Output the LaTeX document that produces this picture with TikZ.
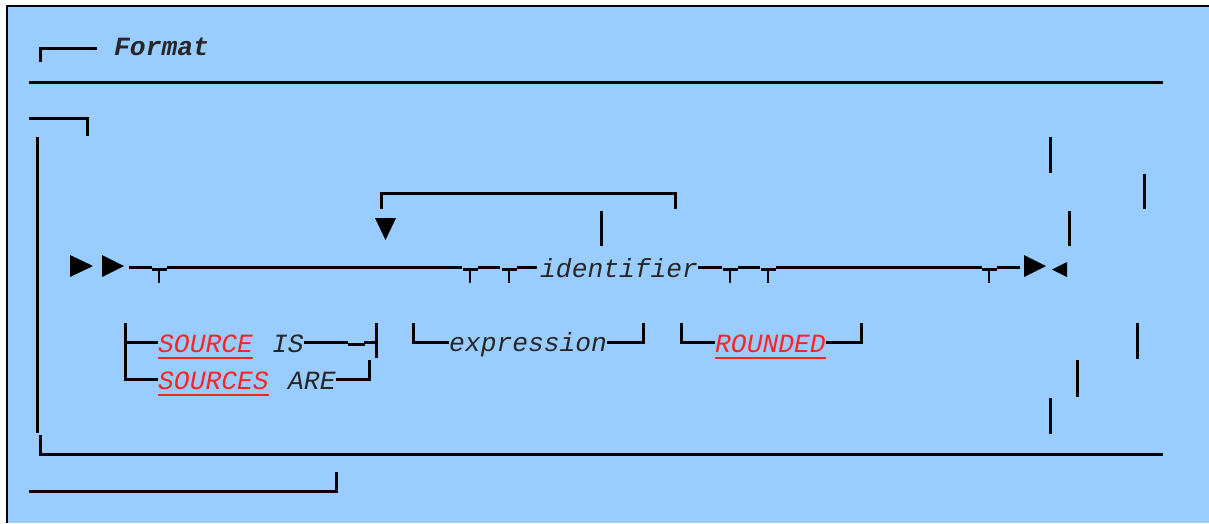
\documentclass[tikz,border=0pt]{standalone}
\usepackage{fontspec}
\newfontfamily\railfont{Liberation Mono}
\definecolor{panelblue}{HTML}{99CCFF}
\definecolor{kwred}{HTML}{FF2424}

\tikzset{
  rail/.style={line width=3pt},
  teeline/.style={line width=2.6pt},
  railtext/.style={font=\railfont\fontsize{26.3}{30}\selectfont\itshape,
    inner sep=0pt, anchor=base west, text=black!85},
  kwtext/.style={railtext, text=kwred},
  kwline/.style={draw=kwred, line width=1.3pt},
  tip/.style={fill=black},
}
% red underline below a keyword node
\newcommand{\kwunder}[1]{%
  \draw[kwline] ([yshift=-6pt]#1.base west) -- ([yshift=-6pt]#1.base east);}

\begin{document}
\begin{tikzpicture}[x=1pt,y=-1pt]
\useasboundingbox (0,0) rectangle (1209,523);

% Panel
\fill[white] (0,0) rectangle (1209,523);
\fill[panelblue] (7,6) rectangle (1209,523);
\draw[line width=1.3pt] (7,523) -- (7,6) -- (1209,6);

% Heading
\draw[rail] (40,62) -- (40,48) -- (97,48);
\node[railtext, font=\railfont\fontsize{26.3}{30}\selectfont\bfseries\itshape]
    (fmt) at (114,55) {Format};
\draw[rail] (29,82) -- (1163,82);

% Outer frame
\draw[rail] (29,118) -- (87,118) -- (87,136);
\draw[rail] (37.7,137) -- (37.7,433);
\draw[rail] (40.7,435) -- (40.7,454) -- (1163,454);
\draw[rail] (29,491) -- (336,491) -- (336,472);

% Main line
\fill[tip] (70,255) -- (93,266) -- (70,277) -- cycle;
\fill[tip] (102,255) -- (124,266) -- (102,277) -- cycle;
\node[railtext] (ident) at (540,277) {identifier};
\foreach \a/\b in {129/152, 167/462, 478/500, 517/537}
  \draw[rail] (\a,267) -- (\b,267);
\draw[rail] (ident.east |- 0,267) -- (722,267);
\foreach \a/\b in {738/760, 776/982, 997/1020}
  \draw[rail] (\a,267) -- (\b,267);
\foreach \tx in {159,470,509,730,768,989}
  \draw[teeline] (\tx-7.5,269.5) -- (\tx+7.5,269.5)
                 (\tx,268.5) -- (\tx,283);
\fill[tip] (1024,255) -- (1046,266) -- (1024,277) -- cycle;
\fill[tip] (1067,262) -- (1052,269.5) -- (1067,277) -- cycle;

% Repeat loop
\draw[rail] (381,209) -- (381,193) -- (675,193) -- (675,209);
\fill[tip] (375,218) -- (396,218) -- (385.5,240) -- cycle;
\draw[rail] (601,211) -- (601,246);

% SOURCE IS / SOURCES ARE
\node[kwtext] (src) at (158,352) {SOURCE};
\node[railtext] (is) at (272,352) {IS};
\node[kwtext] (srcs) at (158,389) {SOURCES};
\node[railtext] (are) at (288,389) {ARE};
\kwunder{src}
\kwunder{srcs}
\draw[rail] (125,323) -- (125,379.5) -- (srcs.west |- 0,379.5);
\draw[rail] (125,342) -- (src.west |- 0,342);
\draw[rail] (is.east |- 0,342) -- (348,342);
\draw[teeline] (348,344.5) -- (365,344.5);
\draw[rail] (364,342) -- (376,342);
\draw[rail] (376,323) -- (376,358);
\draw[rail] (are.east |- 0,379.5) -- (369,379.5) -- (369,360);

% expression
\node[railtext] (expr) at (449,351) {expression};
\draw[rail] (413,323) -- (413,342) -- (expr.west |- 0,342);
\draw[rail] (expr.east |- 0,342) -- (643,342) -- (643,323);

% ROUNDED
\node[kwtext] (rnd) at (715,352) {ROUNDED};
\kwunder{rnd}
\draw[rail] (681,323) -- (681,342) -- (rnd.west |- 0,342);
\draw[rail] (rnd.east |- 0,342) -- (861,342) -- (861,323);

% Stray bars on the right
\foreach \bx/\ya/\yb in {1050/137/173, 1144/174/209, 1069/211/246,
                         1137/323/359, 1077/360/397, 1050/398/434}
  \draw[rail] (\bx,\ya) -- (\bx,\yb);

\end{tikzpicture}
\end{document}
